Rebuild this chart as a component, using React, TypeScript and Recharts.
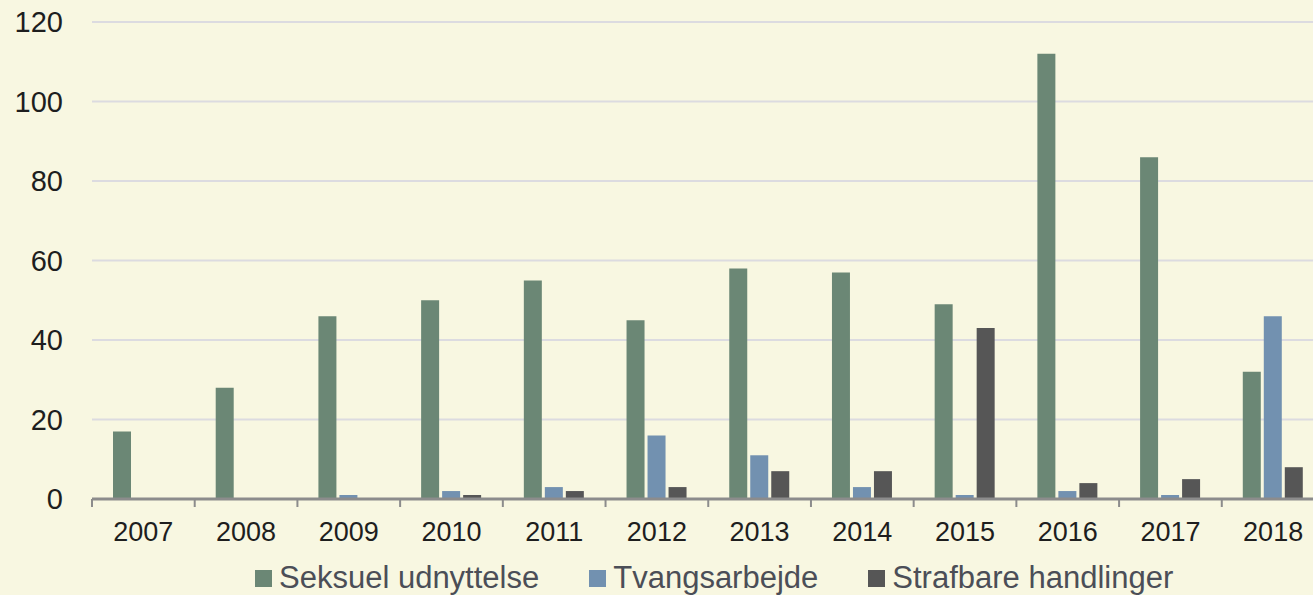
import React from 'react';
import { BarChart, Bar, XAxis, YAxis, CartesianGrid, Legend } from 'recharts';

const years = ['2007', '2008', '2009', '2010', '2011', '2012', '2013', '2014', '2015', '2016', '2017', '2018'];
const seksuel = [17, 28, 46, 50, 55, 45, 58, 57, 49, 112, 86, 32];
const tvang = [0, 0, 1, 2, 3, 16, 11, 3, 1, 2, 1, 46];
const strafbare = [0, 0, 0, 1, 2, 3, 7, 7, 43, 4, 5, 8];
const yTicks = [0, 20, 40, 60, 80, 100, 120];

const seriesNames = ['Seksuel udnyttelse', 'Tvangsarbejde', 'Strafbare handlinger'];
const seriesColors = ['#6b8775', '#7291b0', '#565656'];

const data = years.map((year, i) => ({
  year,
  seksuel: seksuel[i],
  tvang: tvang[i],
  strafbare: strafbare[i],
}));

const FONT = '"Liberation Sans", Arial, Helvetica, sans-serif';
const CHART_W = 1330;
const LEFT = 92;
const RIGHT = 5.5;
const BAND = (CHART_W - LEFT - RIGHT) / years.length;

const XTick = (props: any) => {
  const { x, y, payload } = props;
  return (
    <g>
      <line x1={x - BAND / 2} x2={x - BAND / 2} y1={y - 23} y2={y - 15} stroke="#8c8c8c" strokeWidth={2} />
      <text x={x} y={y} dy="0.71em" textAnchor="middle" fill="#1e1e1e" fontSize={27} fontFamily={FONT}>
        {payload.value}
      </text>
    </g>
  );
};

const LegendContent = () => (
  <div style={{ display: 'flex', alignItems: 'center', fontFamily: FONT, fontSize: 31, color: '#4b4e57', lineHeight: '34px' }}>
    {seriesNames.map((name, i) => (
      <span key={name} style={{ display: 'flex', alignItems: 'center', marginRight: i < 2 ? 50 : 0 }}>
        <span style={{ display: 'inline-block', width: 17, height: 17, background: seriesColors[i], marginRight: 7 }} />
        {name}
      </span>
    ))}
  </div>
);

export default function App() {
  return (
    <div style={{ position: 'absolute', left: 0, top: 0, width: 1313, height: 595, overflow: 'hidden', background: '#f8f7e1' }}>
      <BarChart
        width={CHART_W}
        height={595}
        data={data}
        margin={{ top: 22, right: RIGHT, left: 0, bottom: 0 }}
        barSize={18}
        barGap={3}
      >
        <CartesianGrid vertical={false} stroke="#dcdbe0" strokeWidth={2} />
        <XAxis
          dataKey="year"
          axisLine={{ stroke: '#8c8c8c', strokeWidth: 3 }}
          tickLine={false}
          tickSize={0}
          tickMargin={23}
          height={62}
          tick={<XTick />}
          interval={0}
        />
        <YAxis
          width={LEFT}
          domain={[0, 120]}
          ticks={yTicks}
          axisLine={false}
          tickLine={false}
          tickSize={0}
          tickMargin={29}
          tick={{ fill: '#1e1e1e', fontSize: 29, fontFamily: FONT }}
        />
        <Legend
          verticalAlign="bottom"
          content={<LegendContent />}
          wrapperStyle={{ left: 255, bottom: 0, width: 'auto' }}
        />
        <Bar dataKey="seksuel" name={seriesNames[0]} fill={seriesColors[0]} isAnimationActive={false} />
        <Bar dataKey="tvang" name={seriesNames[1]} fill={seriesColors[1]} isAnimationActive={false} />
        <Bar dataKey="strafbare" name={seriesNames[2]} fill={seriesColors[2]} isAnimationActive={false} />
      </BarChart>
    </div>
  );
}
